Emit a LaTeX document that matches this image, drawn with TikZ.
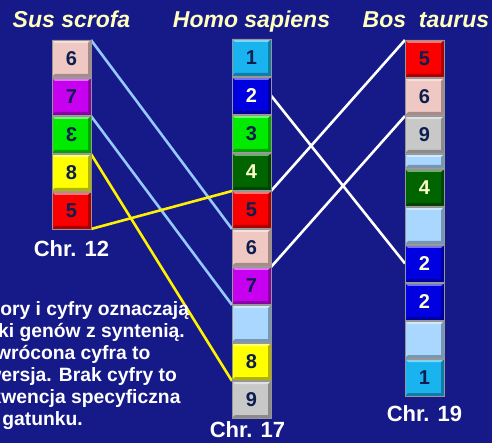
\documentclass[tikz,border=0pt]{standalone}
\usepackage{fontspec}
\setmainfont{Liberation Sans}
\usepackage{graphicx}
\usetikzlibrary{positioning,backgrounds}
\definecolor{slidebg}{RGB}{22,25,136}
\definecolor{titlecol}{RGB}{255,255,190}
\definecolor{numdark}{RGB}{12,30,80}
\definecolor{numlight}{RGB}{255,255,200}
\definecolor{boxedge}{RGB}{150,150,150}
\definecolor{gpink}{RGB}{240,200,195}
\definecolor{gmagenta}{RGB}{200,0,240}
\definecolor{ggreen}{RGB}{0,235,0}
\definecolor{gyellow}{RGB}{255,255,0}
\definecolor{gred}{RGB}{250,0,0}
\definecolor{gcyan}{RGB}{25,180,240}
\definecolor{gblue}{RGB}{0,0,225}
\definecolor{gdkgreen}{RGB}{0,100,0}
\definecolor{gempty}{RGB}{170,215,255}
\definecolor{ggray}{RGB}{200,200,200}
\definecolor{linkblue}{RGB}{150,200,255}
\tikzset{
  genebox/.style={
    draw=boxedge,
    line width=0.8pt,
    fill=#1,
    minimum width=39pt,
    minimum height=37pt,
    inner sep=0pt,
    outer sep=0pt,
    text=numdark,
    font=\fontsize{20}{20}\selectfont\bfseries,
    path picture={
      \fill[white,opacity=.45] (path picture bounding box.north west)
        -- (path picture bounding box.north east)
        -- ([shift={(-3pt,-3pt)}]path picture bounding box.north east)
        -- ([shift={(3pt,-3pt)}]path picture bounding box.north west) -- cycle;
      \fill[black,opacity=.3] (path picture bounding box.south west)
        -- (path picture bounding box.south east)
        -- (path picture bounding box.north east)
        -- ([shift={(-3pt,-3pt)}]path picture bounding box.north east)
        -- ([shift={(-3pt,3pt)}]path picture bounding box.south east)
        -- ([shift={(3pt,3pt)}]path picture bounding box.south west) -- cycle;
    }
  },
  lighttext/.style={text=numlight},
  species/.style={
    anchor=base,
    inner sep=0pt,
    text=titlecol,
    font=\fontsize{23}{23}\selectfont\bfseries\itshape
  },
  chrlabel/.style={
    inner sep=0pt,
    text=white,
    font=\fontsize{22}{22}\selectfont\bfseries
  },
  note/.style={
    inner sep=0pt,
    align=left,
    text=white,
    font=\fontsize{19.3}{22}\selectfont\bfseries
  },
  link/.style={line width=2.6pt}
}

\begin{document}
\begin{tikzpicture}[x=1pt, y=-1pt, node distance=1pt]
  \useasboundingbox (0,0) rectangle (492,443);

  \node[species] (tsus) at (71.5,28) {Sus scrofa};
  \node[species] (thomo) at (251.5,28) {Homo sapiens};

  \node[genebox=gpink] (s6) at (71.5,58.5) {6};
  \node[genebox=gmagenta, below=of s6] (s7) {7};
  \node[genebox=ggreen, below=of s7] (s3) {\reflectbox{3}};
  \node[genebox=gyellow, below=of s3] (s8) {8};
  \node[genebox=gred, below=of s8] (s5) {5};
  \node[chrlabel, below=11pt of s5] (chr12) {Chr. 12};

  \node[genebox=gcyan] (h1) at (251.5,57.5) {1};
  \node[genebox=gblue, lighttext, below=of h1] (h2) {2};
  \node[genebox=ggreen, below=of h2] (h3) {3};
  \node[genebox=gdkgreen, lighttext, below=of h3] (h4) {4};
  \node[genebox=gred, below=of h4] (h5) {5};
  \node[genebox=gpink, below=of h5] (h6) {6};
  \node[genebox=gmagenta, below=of h6] (h7) {7};
  \node[genebox=gempty, below=of h7] (hx) {};
  \node[genebox=gyellow, below=of hx] (h8) {8};
  \node[genebox=ggray, below=of h8] (h9) {9};
  \node[chrlabel, below=3.5pt of h9, xshift=-4pt] (chr17) {Chr. 17};

  \node[genebox=gred] (b5) at (424.5,58.5) {5};
  \node[genebox=gpink, below=of b5] (b6) {6};
  \node[genebox=ggray, below=of b6] (b9) {9};
  \node[genebox=gempty, minimum height=14pt, below=of b9] (bx) {};
  \node[genebox=gdkgreen, lighttext, below=of bx] (b4) {4};
  \node[genebox=gempty, below=of b4] (by) {};
  \node[genebox=gblue, lighttext, below=of by] (b2a) {2};
  \node[genebox=gblue, lighttext, below=of b2a] (b2b) {2};
  \node[genebox=gempty, below=of b2b] (bz) {};
  \node[genebox=gcyan, below=of bz] (b1) {1};
  \node[chrlabel, below=9pt of b1] (chr19) {Chr. 19};

  \begin{scope}
    \clip (0,0) rectangle (492,443);
    \node[species] (tbos) at (426,28) {Bos~~taurus};
    \node[note, anchor=north west] (legend) at (-31,301) {Kolory i cyfry oznaczają\\bloki genów z syntenią.\\Odwrócona cyfra to\\inwersja. Brak cyfry to\\sekwencja specyficzna\\dla gatunku.};
  \end{scope}

  \begin{pgfonlayer}{background}
    \fill[slidebg] (0,0) rectangle (492,443);
    \draw[link, linkblue] (s6.north east) -- (h6.north west);
    \draw[link, linkblue] (s3.north east) -- (hx.north west);
    \draw[link, yellow] (s8.north east) -- (h9.north west);
    \draw[link, yellow] (s5.south east) -- (h5.north west);
    \draw[link, white] (h2.east) -- (b2a.west);
    \draw[link, white] (h5.north east) -- (b5.north west);
    \draw[link, white] (h7.north east) -- (b9.north west);
  \end{pgfonlayer}
\end{tikzpicture}
\end{document}
